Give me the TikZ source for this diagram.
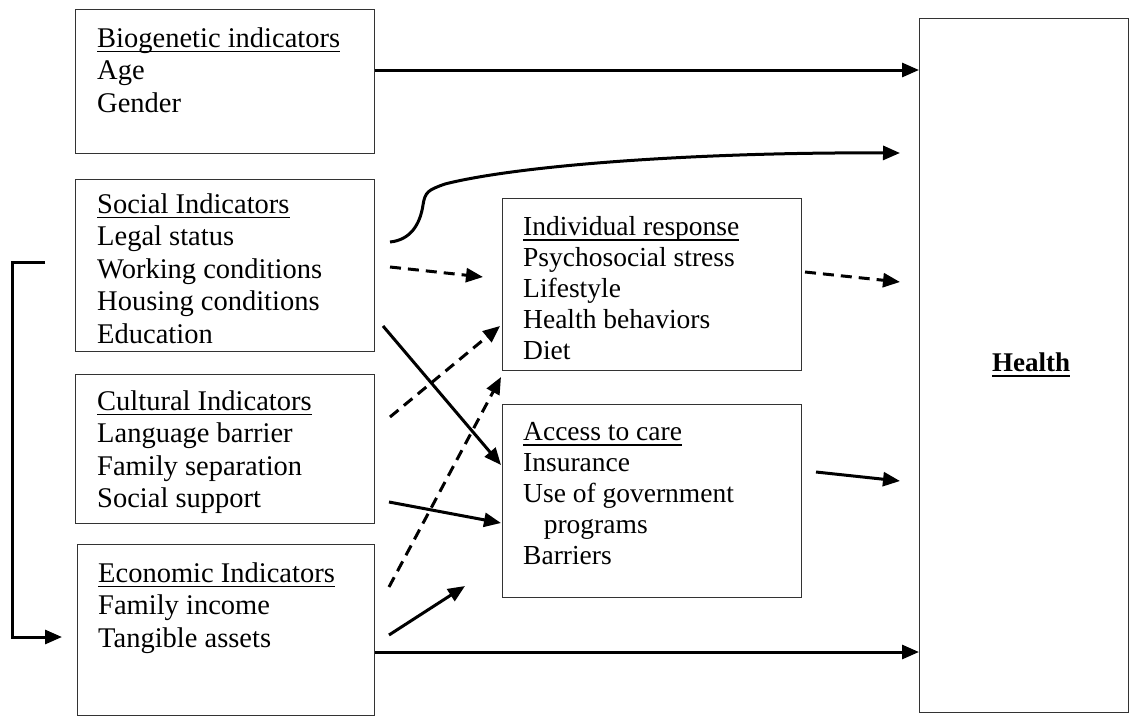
\documentclass[tikz,border=0pt]{standalone}
\usepackage{fontspec}
\setmainfont{Liberation Serif}
\usetikzlibrary{arrows.meta}
\newcommand{\ulin}[1]{\setbox0\hbox{#1}\rlap{\rule[-5pt]{\wd0}{1.6pt}}\box0}
\begin{document}
\begin{tikzpicture}[x=1pt,y=-1pt,
  box/.style={draw=black!80, line width=1.4pt, inner sep=0pt, anchor=north west},
  lefttxt/.style={anchor=north west, inner sep=0pt, align=left, font=\fontsize{28.5}{32.5}\selectfont},
  midtxt/.style={anchor=north west, inner sep=0pt, align=left, font=\fontsize{27.5}{31}\selectfont},
  conn/.style={line width=3pt, -{Triangle[length=17pt,width=14pt]}},
  dconn/.style={conn, dash pattern=on 11pt off 7pt},
]
\useasboundingbox (0,0) rectangle (1131,717);
\fill[white] (0,0) rectangle (1131,717);

% boxes
\node[box, minimum width=299pt, minimum height=144pt] (bio) at (75,9) {};
\node[box, minimum width=299pt, minimum height=172pt] (soc) at (75,179) {};
\node[box, minimum width=299pt, minimum height=149pt] (cult) at (75,374) {};
\node[box, minimum width=297pt, minimum height=171pt] (econ) at (77,544) {};
\node[box, minimum width=299pt, minimum height=172pt] (ind) at (502,198) {};
\node[box, minimum width=299pt, minimum height=193pt] (acc) at (502,404) {};
\node[box, minimum width=209pt, minimum height=694pt] (health) at (919,18) {};

% texts
\node[lefttxt] (bioT) at (97,27.5) {\ulin{Biogenetic indicators}\\Age\\Gender};
\node[lefttxt] (socT) at (97,193.5) {\ulin{Social Indicators}\\Legal status\\Working conditions\\Housing conditions\\Education};
\node[lefttxt] (cultT) at (97,390.5) {\ulin{Cultural Indicators}\\Language barrier\\Family separation\\Social support};
\node[lefttxt] (econT) at (98,562.5) {\ulin{Economic Indicators}\\Family income\\Tangible assets};
\node[midtxt] (indT) at (523,216.5) {\ulin{Individual response}\\Psychosocial stress\\Lifestyle\\Health behaviors\\Diet};
\node[midtxt] (accT) at (523,422.5) {\ulin{Access to care}\\Insurance\\Use of government\\\hspace*{0.75em}programs\\Barriers};
\node[font=\fontsize{27}{30}\selectfont\bfseries, inner sep=0pt] (healthT) at (1031,365) {\ulin{Health}};

% connector end points
\coordinate (yBio) at (0,70);
\coordinate (yEcon) at (0,652);
\coordinate (curveS) at (390,242);
\coordinate (curveE) at (900,153);
\coordinate (dSocS) at (390,267);
\coordinate (dSocE) at (483,277);
\coordinate (dIndS) at (805,272);
\coordinate (dIndE) at (900,282);
\coordinate (sSocS) at (383,326);
\coordinate (sSocE) at (501,465);
\coordinate (dCultS) at (390,417);
\coordinate (dCultE) at (500,326);
\coordinate (dEconS) at (389,587);
\coordinate (dEconE) at (501,377);
\coordinate (sCultS) at (389,502);
\coordinate (sCultE) at (501,523);
\coordinate (sEconS) at (389,635);
\coordinate (sEconE) at (465,586);
\coordinate (sAccS) at (816,472);
\coordinate (sAccE) at (900,481);
\coordinate (brA) at (45,262);
\coordinate (brB) at (12,262);
\coordinate (brC) at (12,637);
\coordinate (brD) at (62,637);

% connectors
\draw[conn] (bio.east |- yBio) -- (health.west |- yBio);
\draw[conn] (econ.east |- yEcon) -- (health.west |- yEcon);
\draw[conn] (curveS) .. controls (410,240) and (420,225) .. (423,205)
  .. controls (425,192) and (428,190) .. (445,184)
  .. controls (520,165) and (700,152) .. (curveE);
\draw[dconn] (dSocS) -- (dSocE);
\draw[dconn] (dIndS) -- (dIndE);
\draw[conn] (sSocS) -- (sSocE);
\draw[dconn] (dCultS) -- (dCultE);
\draw[dconn] (dEconS) -- (dEconE);
\draw[conn] (sCultS) -- (sCultE);
\draw[conn] (sEconS) -- (sEconE);
\draw[conn] (sAccS) -- (sAccE);
\draw[conn] (brA) -- (brB) -- (brC) -- (brD);
\end{tikzpicture}
\end{document}
